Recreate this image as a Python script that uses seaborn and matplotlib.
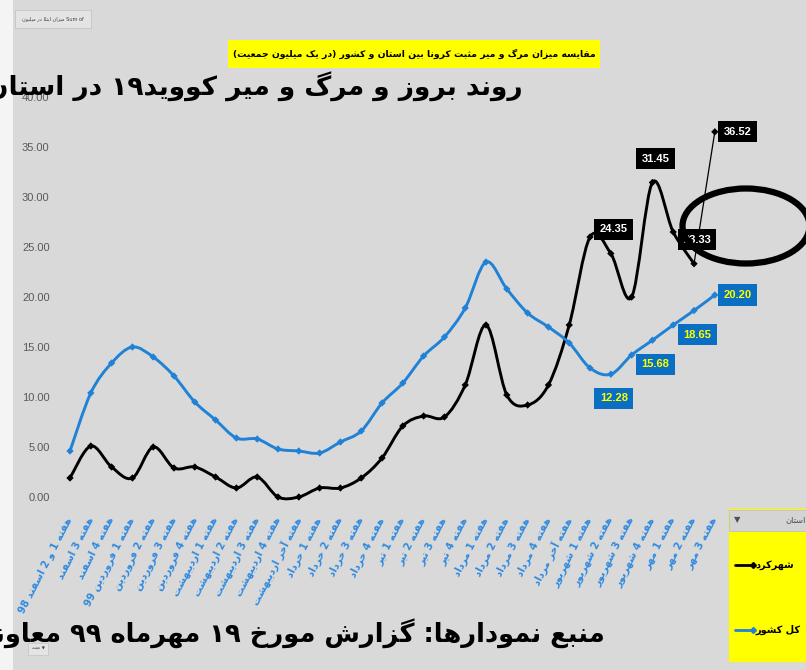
"""
Weekly COVID-19 rate per million: Shahrekord vs whole country (Excel-style screenshot).
"""

import re

import numpy as np
import pandas as pd
import matplotlib
matplotlib.use('Agg')
import matplotlib.pyplot as plt
import seaborn as sns
from matplotlib import font_manager
from matplotlib.path import Path
from matplotlib.patches import PathPatch, Ellipse, Rectangle

weeks = [
    'هفته 1 و 2 اسفند 98', 'هفته 3 اسفند', 'هفته 4 اسفند',
    'هفته 1 فروردین 99', 'هفته 2 فروردین', 'هفته 3 فروردین', 'هفته 4 فروردین',
    'هفته 1 اردیبهشت', 'هفته 2 اردیبهشت', 'هفته 3 اردیبهشت', 'هفته 4 اردیبهشت',
    'هفته آخر اردیبهشت',
    'هفته 1 خرداد', 'هفته 2 خرداد', 'هفته 3 خرداد', 'هفته 4 خرداد',
    'هفته 1 تیر', 'هفته 2 تیر', 'هفته 3 تیر', 'هفته 4 تیر',
    'هفته 1 مرداد', 'هفته 2 مرداد', 'هفته 3 مرداد', 'هفته 4 مرداد', 'هفته آخر مرداد',
    'هفته 1 شهریور', 'هفته 2 شهریور', 'هفته 3 شهریور', 'هفته 4 شهریور',
    'هفته 1 مهر', 'هفته 2 مهر', 'هفته 3 مهر',
]
shahrekord = [1.9, 5.1, 3.0, 1.9, 5.0, 2.9, 3.0, 2.0, 0.9, 2.0, 0.0, 0.0, 0.9, 0.9,
              1.9, 3.9, 7.1, 8.1, 8.0, 11.2, 17.2, 10.2, 9.2, 11.2, 17.2, 26.0,
              24.35, 20.0, 31.45, 26.5, 23.33, 36.52]
country = [4.6, 10.4, 13.4, 15.0, 14.0, 12.1, 9.5, 7.7, 5.9, 5.8, 4.8, 4.6, 4.4, 5.5,
           6.6, 9.4, 11.4, 14.1, 16.0, 18.9, 23.5, 20.8, 18.4, 17.0, 15.4, 12.9,
           12.28, 14.2, 15.68, 17.2, 18.65, 20.20]
yticks = [0, 5, 10, 15, 20, 25, 30, 35, 40]
labelled = [26, 28, 30, 31]

series_names = ['شهرکرد', 'کل کشور']
title = 'روند بروز و مرگ و میر کووید۱۹ در استان'
box_title = 'مقایسه میزان مرگ و میر مثبت کرونا بین استان و کشور (در یک میلیون جمعیت)'
source = 'منبع نمودارها: گزارش مورخ ۱۹ مهرماه ۹۹ معاونت'

BG = '#d9d9d9'
BLACK = '#000000'
BLUE = '#1f82d6'
_avail = {f.name for f in font_manager.fontManager.ttflist}
NARROW = 'Liberation Sans Narrow' if 'Liberation Sans Narrow' in _avail else 'Liberation Sans'

# --- minimal Persian shaping + visual reordering (matplotlib has no bidi) ---
_forms = {
    'ا': (0xFE8D, 0xFE8E, None, None), 'آ': (0xFE81, 0xFE82, None, None),
    'ب': (0xFE8F, 0xFE90, 0xFE91, 0xFE92), 'پ': (0xFB56, 0xFB57, 0xFB58, 0xFB59),
    'ت': (0xFE95, 0xFE96, 0xFE97, 0xFE98), 'ث': (0xFE99, 0xFE9A, 0xFE9B, 0xFE9C),
    'ج': (0xFE9D, 0xFE9E, 0xFE9F, 0xFEA0), 'چ': (0xFB7A, 0xFB7B, 0xFB7C, 0xFB7D),
    'ح': (0xFEA1, 0xFEA2, 0xFEA3, 0xFEA4), 'خ': (0xFEA5, 0xFEA6, 0xFEA7, 0xFEA8),
    'د': (0xFEA9, 0xFEAA, None, None), 'ذ': (0xFEAB, 0xFEAC, None, None),
    'ر': (0xFEAD, 0xFEAE, None, None), 'ز': (0xFEAF, 0xFEB0, None, None),
    'ژ': (0xFB8A, 0xFB8B, None, None),
    'س': (0xFEB1, 0xFEB2, 0xFEB3, 0xFEB4), 'ش': (0xFEB5, 0xFEB6, 0xFEB7, 0xFEB8),
    'ص': (0xFEB9, 0xFEBA, 0xFEBB, 0xFEBC), 'ض': (0xFEBD, 0xFEBE, 0xFEBF, 0xFEC0),
    'ط': (0xFEC1, 0xFEC2, 0xFEC3, 0xFEC4), 'ظ': (0xFEC5, 0xFEC6, 0xFEC7, 0xFEC8),
    'ع': (0xFEC9, 0xFECA, 0xFECB, 0xFECC), 'غ': (0xFECD, 0xFECE, 0xFECF, 0xFED0),
    'ف': (0xFED1, 0xFED2, 0xFED3, 0xFED4), 'ق': (0xFED5, 0xFED6, 0xFED7, 0xFED8),
    'ک': (0xFB8E, 0xFB8F, 0xFB90, 0xFB91), 'گ': (0xFB92, 0xFB93, 0xFB94, 0xFB95),
    'ل': (0xFEDD, 0xFEDE, 0xFEDF, 0xFEE0), 'م': (0xFEE1, 0xFEE2, 0xFEE3, 0xFEE4),
    'ن': (0xFEE5, 0xFEE6, 0xFEE7, 0xFEE8), 'و': (0xFEED, 0xFEEE, None, None),
    'ه': (0xFEE9, 0xFEEA, 0xFEEB, 0xFEEC), 'ی': (0xFBFC, 0xFBFD, 0xFBFE, 0xFBFF),
}


def shape(text):
    out = []
    for i, ch in enumerate(text):
        f = _forms.get(ch)
        if f is None:
            out.append(ch)
            continue
        prev = text[i - 1] if i > 0 else ''
        nxt = text[i + 1] if i + 1 < len(text) else ''
        jp = prev in _forms and _forms[prev][2] is not None
        jn = f[2] is not None and nxt in _forms
        code = f[3] if (jp and jn) else f[1] if jp else f[2] if jn else f[0]
        out.append(chr(code))
    return ''.join(out)


def rtl(text):
    s = shape(text)
    ltr = r'[0-9A-Za-z۰-۹.]'
    runs = re.findall(ltr + r'+|[^0-9A-Za-z۰-۹.]+', s)
    mirror = {'(': ')', ')': '('}
    vis = []
    for r in reversed(runs):
        if re.match(ltr, r):
            vis.append(r)
        else:
            vis.append(''.join(mirror.get(c, c) for c in reversed(r)))
    return ''.join(vis)


def smooth_path(xs, ys):
    """Excel-like smoothed line: Catmull-Rom tangents turned into cubic Beziers."""
    pts = np.column_stack([xs, ys]).astype(float)
    n = len(pts)
    verts, codes = [pts[0]], [Path.MOVETO]
    for i in range(n - 1):
        p0, p1 = pts[max(i - 1, 0)], pts[i]
        p2, p3 = pts[i + 1], pts[min(i + 2, n - 1)]
        verts += [p1 + (p2 - p0) / 6, p2 - (p3 - p1) / 6, p2]
        codes += [Path.CURVE4] * 3
    return Path(verts, codes)


def px(x, y):
    return x / 806, 1 - y / 670


sns.set_style('white', {'axes.facecolor': BG, 'figure.facecolor': BG})
plt.rcParams['font.family'] = ['DejaVu Sans']

fig = plt.figure(figsize=(8.06, 6.70), dpi=100)
fig.patch.set_facecolor(BG)
fig.patches.append(Rectangle((0, 0), 13 / 806, 1, transform=fig.transFigure,
                             fc='#f4f4f4', ec='none', zorder=0))

ax = fig.add_axes([58 / 806, 173 / 670, 677 / 806, 400 / 670])
ax.set_facecolor(BG)

idx = np.arange(len(weeks))
df = pd.DataFrame({
    'week': np.concatenate([idx, idx]),
    'value': shahrekord + country,
    'series': [series_names[0]] * len(idx) + [series_names[1]] * len(idx),
})

# smoothed lines
ax.add_patch(PathPatch(smooth_path(idx[:31], shahrekord[:31]), fc='none', ec=BLACK,
                       lw=2.1, clip_on=False, zorder=3))
sns.lineplot(x=idx[30:], y=shahrekord[30:], color=BLACK, lw=0.9, ax=ax,
             zorder=3, legend=False)
ax.add_patch(PathPatch(smooth_path(idx, country), fc='none', ec=BLUE,
                       lw=2.1, clip_on=False, zorder=3))

sns.scatterplot(data=df, x='week', y='value', hue='series',
                palette={series_names[0]: BLACK, series_names[1]: BLUE},
                marker='D', s=14, edgecolor='none', legend=False, ax=ax,
                zorder=4, clip_on=False)

# data labels
for i in labelled:
    v = shahrekord[i]
    off = (23, 0) if i == idx[-1] else (3, 24)
    ax.annotate(f'{v:.2f}', xy=(i, v), xytext=off, textcoords='offset pixels',
                ha='center', va='center', color='white', fontsize=8,
                fontweight='bold', family=NARROW, zorder=6,
                bbox=dict(boxstyle='square,pad=0.5', fc=BLACK, ec='none'))
    v = country[i]
    off = (23, 0) if i == idx[-1] else (3, -24)
    ax.annotate(f'{v:.2f}', xy=(i, v), xytext=off, textcoords='offset pixels',
                ha='center', va='center', color='#ffff00', fontsize=8,
                fontweight='bold', family=NARROW, zorder=6,
                bbox=dict(boxstyle='square,pad=0.5', fc='#0a6fc2', ec='none'))

ax.set_xlim(-0.577, 31.97)
ax.set_ylim(0, 40)
ax.set_yticks(yticks)
ax.set_yticklabels([f'{t:.2f}' for t in yticks], color='#595959', fontsize=8,
                   family=NARROW)
ax.set_xticks(idx)
ax.set_xticklabels([rtl(w) for w in weeks], rotation=63, ha='right', va='center',
                   rotation_mode='anchor', color='#2f8ae0', fontsize=7.2,
                   fontweight='bold')
ax.tick_params(axis='x', length=0, pad=15)
ax.tick_params(axis='y', length=0, pad=6)
ax.set_xlabel('')
ax.set_ylabel('')
sns.despine(ax=ax, left=True, bottom=True)

# highlight ellipse
fig.patches.append(Ellipse(px(746, 226), 127 / 806, 75 / 670, transform=fig.transFigure,
                           fc='none', ec=BLACK, lw=4.5, zorder=7))

# slide texts
x, y = px(228, 68)
fig.patches.append(Rectangle((x, y), 372 / 806, 28 / 670, transform=fig.transFigure,
                             fc='#ffff00', ec='none', zorder=7))
x, y = px(414, 54)
fig.text(x, y, rtl(box_title), ha='center', va='center', fontsize=6.7,
         fontweight='bold', color=BLACK, zorder=8)
x, y = px(523, 87)
fig.text(x, y, rtl(title), ha='right', va='center', fontsize=19, fontweight='bold',
         color=BLACK, zorder=8)
x, y = px(605, 633)
fig.text(x, y, rtl(source), ha='right', va='center', fontsize=18.5, fontweight='bold',
         color=BLACK, zorder=8)

# pivot field buttons
x, y = px(15, 28)
fig.patches.append(Rectangle((x, y), 76 / 806, 18 / 670, transform=fig.transFigure,
                             fc='#e4e4e4', ec='#c4c4c4', lw=0.6, zorder=8))
x, y = px(53, 19)
fig.text(x, y, rtl('میزان ابتلا در میلیون') + ' Sum of', ha='center', va='center',
         fontsize=3.6, color='#404040', zorder=9)
x, y = px(28, 655)
fig.patches.append(Rectangle((x, y), 20 / 806, 12 / 670, transform=fig.transFigure,
                             fc='#e4e4e4', ec='#c4c4c4', lw=0.5, zorder=9))
x, y = px(38, 649)
fig.text(x, y, rtl('هفته') + ' ▼', ha='center', va='center', fontsize=3.2,
         color='#404040', zorder=10)

# legend panel
x, y = px(728, 662)
fig.patches.append(Rectangle((x, y), 80 / 806, 154 / 670, transform=fig.transFigure,
                             fc='#ffff00', ec='#e0e0a0', lw=1, zorder=8))
x, y = px(729, 531)
fig.patches.append(Rectangle((x, y), 78 / 806, 21 / 670, transform=fig.transFigure,
                             fc='#d4d4d4', ec='#c0c0c0', lw=0.6, zorder=9))
x, y = px(734, 520)
fig.text(x, y, '▼', ha='left', va='center', fontsize=6, color='#505050', zorder=10)
x, y = px(806, 520)
fig.text(x, y, rtl('استان'), ha='right', va='center', fontsize=6, color='#505050',
         zorder=10)
for name, col, ypix in [(series_names[0], BLACK, 565), (series_names[1], BLUE, 630)]:
    x0, yy = px(735, ypix)
    x1, _ = px(753, ypix)
    fig.add_artist(plt.Line2D([x0, x1], [yy, yy], color=col, lw=2,
                              marker='D', markersize=3, markevery=[1],
                              transform=fig.transFigure, zorder=10))
    x, _ = px(755, ypix)
    fig.text(x, yy, rtl(name), ha='left', va='center', fontsize=7,
             fontweight='bold', color=BLACK, zorder=10)

plt.savefig('out.png', dpi=100, facecolor=BG)
plt.close(fig)
